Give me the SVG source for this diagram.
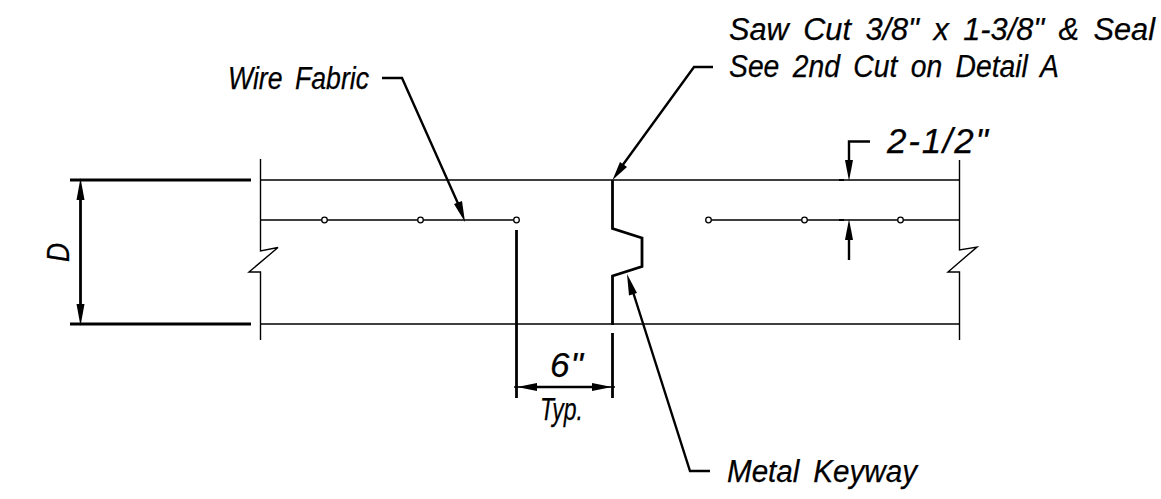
<svg xmlns="http://www.w3.org/2000/svg" width="1161" height="499" viewBox="0 0 1161 499">
<style>
.thin{fill:none;stroke:#000;stroke-width:1.4}
.tick{fill:none;stroke:#000;stroke-width:2.2}
.mid{fill:none;stroke:#000;stroke-width:2.4}
.thick{fill:none;stroke:#000;stroke-width:2.8}
.dot{fill:#fff;stroke:#000;stroke-width:1.3}
.head{fill:#000;stroke:none}
text{font-family:"Liberation Sans",Arial,sans-serif;font-style:italic;font-size:31px;fill:#000;stroke:#000;stroke-width:.25;word-spacing:6px}
.dim{font-size:35px}
</style>
<rect width="1161" height="499" fill="#fff"/>
<g id="slab">
<path class="thin" d="M260 180H959M260 324H959M260 220H516M708 220H959"/>
<path class="thin" d="M260.500 159V251L278 247.500L249 272H260.500V340"/>
<path class="thin" d="M959.500 160V250L977 247L948 272H959.500V340"/>
<path class="tick" d="M839 180h5M839 220h5"/>
<circle class="dot" cx="324.500" cy="220" r="2.800"/>
<circle class="dot" cx="420.500" cy="220" r="2.800"/>
<circle class="dot" cx="516.500" cy="220" r="2.800"/>
<circle class="dot" cx="708.500" cy="220" r="2.800"/>
<circle class="dot" cx="804.500" cy="220" r="2.800"/>
<circle class="dot" cx="900.500" cy="220" r="2.800"/>
<path class="thick" d="M612.500 180V228.500L642 238V266.500L612.500 276V325M612.500 333V398"/>
<path class="thick" d="M516.500 230V398"/>
</g>
<g id="connectors">
<path class="thick" d="M70 180H251M70 324H251"/>
<path class="thick" d="M80.500 195V310"/>
<path class="head" d="M80.500 178L84.500 200H76.500ZM80.500 326L84.500 304H76.500Z"/>
<path class="mid" d="M530 387H600"/>
<path class="thin" d="M514 387H615"/>
<path class="head" d="M517 387L537 383V391ZM612 387L592 383V391Z"/>
<path class="mid" d="M382 78H402L460 208"/>
<path class="head" d="M465 222L454 204L462 201Z"/>
<path class="mid" d="M713 67H694L622 166"/>
<path class="head" d="M612.500 180L620 162L627 167Z"/>
<path class="mid" d="M710 471H690L633 292"/>
<path class="head" d="M627 274L637 293L629 295.500Z"/>
<path class="mid" d="M870 141.500H849V165"/>
<path class="head" d="M849 181L845 160H853Z"/>
<path class="mid" d="M849 240V260"/>
<path class="head" d="M849 219L845 240H853Z"/>
</g>
<g id="labels">
<text x="729" y="40" textLength="426" lengthAdjust="spacingAndGlyphs">Saw Cut 3/8" x 1-3/8" &amp; Seal</text>
<text x="729" y="77" textLength="330" lengthAdjust="spacingAndGlyphs">See 2nd Cut on Detail A</text>
<text x="228" y="89" textLength="141" lengthAdjust="spacingAndGlyphs">Wire Fabric</text>
<text class="dim" x="887" y="153" textLength="101" lengthAdjust="spacing">2-1/2"</text>
<text class="dim" x="550" y="377" textLength="33" lengthAdjust="spacing">6"</text>
<text x="540" y="420" textLength="43" lengthAdjust="spacingAndGlyphs">Typ.</text>
<text x="727" y="482" textLength="190" lengthAdjust="spacingAndGlyphs">Metal Keyway</text>
<text transform="translate(69 262) rotate(-90)" textLength="19" lengthAdjust="spacingAndGlyphs">D</text>
</g>
</svg>
